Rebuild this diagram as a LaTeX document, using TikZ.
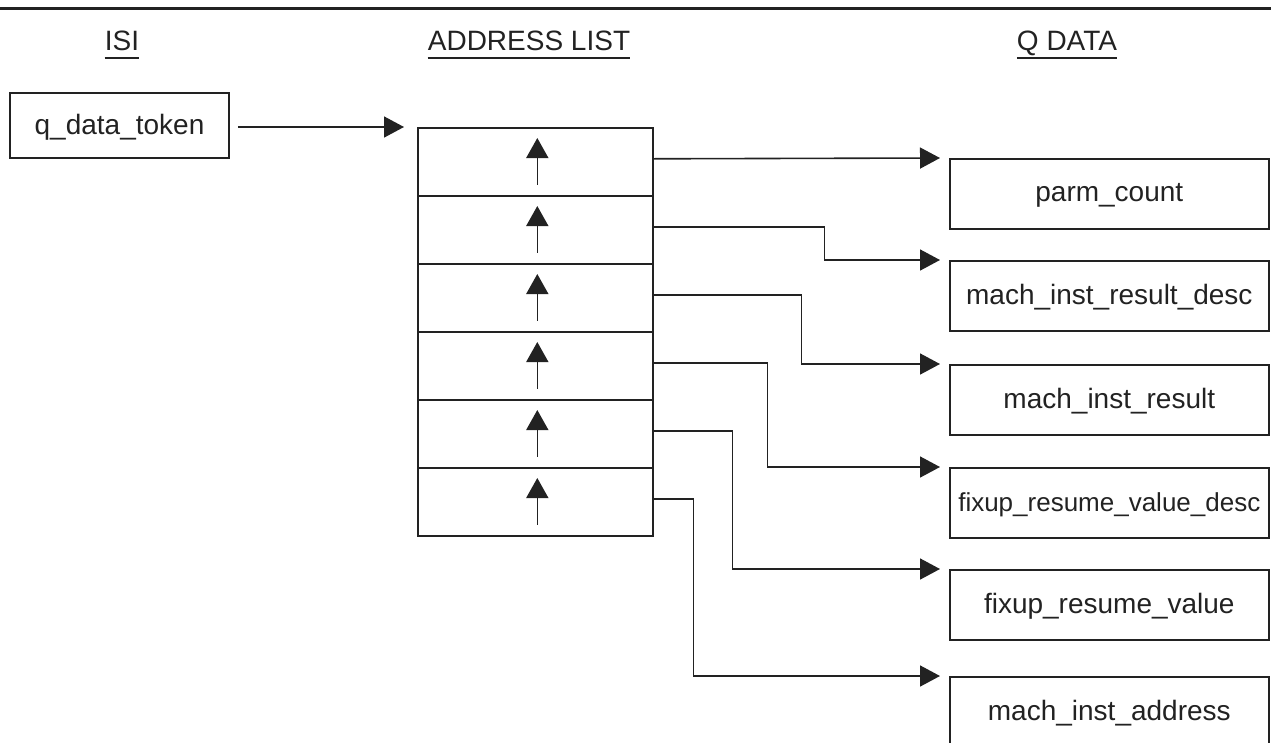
\documentclass[tikz,border=0pt]{standalone}
\usepackage{fontspec}
\setmainfont{Liberation Sans}
\usetikzlibrary{arrows.meta,calc}
\definecolor{ink}{HTML}{222222}
\tikzset{
  ln/.style={draw=ink, line width=1.6pt},
  conn/.style={ln, -{Triangle[length=20pt,width=21pt]}},
  uparr/.style={ln, -{Triangle[length=20pt,width=22pt]}},
  hdr/.style={anchor=base, inner sep=0pt, font=\fontsize{28}{30}\selectfont, text=ink},
  cell/.style={ln, rectangle, minimum width=235pt, minimum height=68pt, inner sep=0pt, anchor=north west},
  qbox/.style={ln, rectangle, minimum width=319pt, minimum height=70pt, inner sep=0pt, anchor=north west,
    font=\fontsize{28}{30}\selectfont, text=ink, text depth=2pt},
}
\begin{document}
\begin{tikzpicture}[x=1pt,y=-1pt]
\useasboundingbox (0,0) rectangle (1271,742);
\draw[draw=ink, line width=3pt] (0,8) -- (1271,8);
% headers
\node[hdr] (hisi) at (122,50) {ISI};
\node[hdr] (hadr) at (529,50) {ADDRESS LIST};
\node[hdr] (hq) at (1067,50) {Q DATA};
\foreach \h in {hisi,hadr,hq}
  \draw[ln] ([yshift=-8pt]\h.base west) -- ([yshift=-8pt]\h.base east);
% ISI box
\node[ln, rectangle, minimum width=219pt, minimum height=65pt, inner sep=0pt, text depth=2pt,
  font=\fontsize{28}{30}\selectfont, text=ink] (qdt) at (119.5,125.5) {q\_data\_token};
% address list
\foreach \i in {1,...,6}
  \node[cell] (r\i) at (417,{127+68*(\i-1)}) {};
\foreach \i in {1,...,6}
  \draw[uparr] ([xshift=2pt,yshift=12pt]r\i.south) -- ([xshift=2pt,yshift=-11pt]r\i.north);
\draw[conn] ($(qdt.east |- r1.north west)+(8,0)$) -- ([xshift=-13pt]r1.north west);
% Q data boxes
\node[qbox] (b1) at (949,158) {parm\_count};
\node[qbox] (b2) at (949,260) {mach\_inst\_result\_desc};
\node[qbox] (b3) at (949,364) {mach\_inst\_result};
\node[qbox, font=\fontsize{26}{28}\selectfont] (b4) at (949,467) {fixup\_resume\_value\_desc};
\node[qbox] (b5) at (949,569) {fixup\_resume\_value};
\node[qbox] (b6) at (949,676) {mach\_inst\_address};
% connectors
\draw[conn] ([yshift=3pt]r1.east) -- ([xshift=-9pt]b1.north west);
\draw[conn] ([yshift=3pt]r2.east) -- ++(171,0) |- ([xshift=-9pt]b2.north west);
\draw[conn] ([yshift=3pt]r3.east) -- ++(148,0) |- ([xshift=-9pt]b3.north west);
\draw[conn] ([yshift=3pt]r4.east) -- ++(114,0) |- ([xshift=-9pt]b4.north west);
\draw[conn] ([yshift=3pt]r5.east) -- ++(79,0) |- ([xshift=-9pt]b5.north west);
\draw[conn] ([yshift=3pt]r6.east) -- ++(40,0) |- ([xshift=-9pt]b6.north west);
\end{tikzpicture}
\end{document}
